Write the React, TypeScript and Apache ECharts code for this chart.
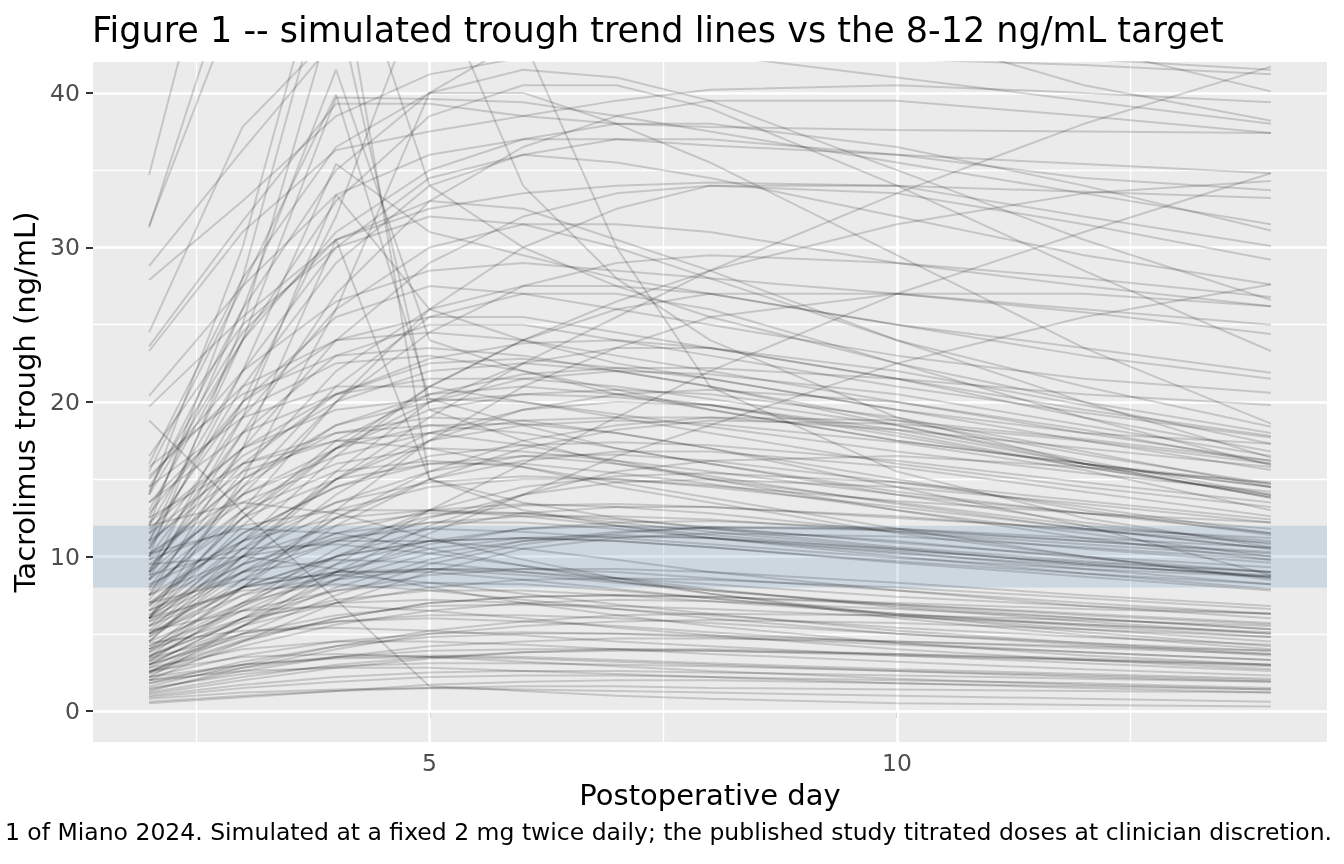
import { useEffect, useRef } from 'react';
import * as echarts from 'echarts';

// observation days (postoperative)
const days = [2, 3, 4, 5, 6, 7, 8, 10, 12, 14];

// troughs (ng/mL), one row per simulated patient
const highStart = [
  [34.7, 58.0, 66.0, 64.0, 61.0, 58.0, 55.0, 48.0, 43.0, 40.1],
  [31.3, 50.0, 57.0, 55.0, 53.0, 50.0, 48.0, 44.0, 40.5, 38.2],
  [31.4, 47.0, 55.0, 56.0, 54.0, 52.0, 50.0, 47.5, 45.0, 43.5],
  [28.8, 36.3, 43.5, 46.0, 45.5, 44.5, 43.5, 42.8, 42.2, 41.5],
  [27.9, 33.0, 38.5, 41.2, 42.3, 42.6, 42.6, 42.2, 41.8, 41.2],
  [24.5, 37.8, 44.0, 45.0, 44.0, 43.0, 42.5, 41.0, 39.5, 38.0],
  [23.6, 31.7, 39.3, 39.3, 38.5, 38.0, 37.8, 37.6, 37.5, 37.4],
  [23.3, 31.0, 36.3, 37.5, 38.5, 39.5, 40.2, 40.5, 40.0, 39.4],
  [20.4, 27.5, 33.4, 36.0, 37.0, 37.0, 36.6, 36.0, 35.4, 34.8],
  [19.7, 25.5, 30.5, 32.5, 33.5, 34.0, 34.2, 34.0, 33.6, 33.2],
];

const earlySpikes = [
  [10.0, 25.0, 46.0, 19.5, 17.5, 16.0, 15.0, 13.5, 12.0, 11.0],
  [12.0, 28.0, 50.0, 15.0, 13.5, 12.5, 11.8, 10.6, 9.7, 9.0],
  [14.0, 30.0, 52.0, 34.0, 30.0, 27.5, 25.5, 22.5, 20.0, 18.0],
  [15.5, 27.5, 39.9, 20.2, 18.5, 17.0, 16.0, 14.2, 12.8, 11.5],
  [12.5, 26.0, 41.5, 24.0, 22.0, 20.5, 19.5, 17.5, 16.0, 14.5],
  [10.5, 22.0, 35.4, 31.0, 29.5, 28.0, 27.0, 25.0, 23.0, 21.5],
  [8.5, 19.0, 33.4, 26.0, 24.0, 22.5, 21.5, 19.5, 18.0, 17.3],
  [7.5, 17.0, 30.5, 15.0, 13.0, 12.0, 11.2, 10.2, 9.4, 8.8],
  [18.8, 12.9, 7.2, 1.6, 1.3, 1.0, 0.8, 0.5, 0.4, 0.3],
  [6.0, 15.0, 26.0, 40.0, 43.5, 30.0, 21.0, 15.5, 12.5, 10.6],
  [11.0, 24.0, 39.7, 39.6, 39.4, 38.5, 37.5, 35.5, 33.5, 31.5],
  [9.0, 20.0, 32.0, 48.0, 34.0, 28.0, 24.0, 19.0, 16.0, 13.8],
];

const lateRisers = [
  [5.0, 10.0, 15.0, 19.0, 22.5, 25.5, 28.5, 33.5, 38.0, 41.7],
  [3.0, 6.0, 9.5, 13.0, 16.0, 19.0, 22.0, 27.0, 31.0, 34.8],
  [6.0, 12.0, 17.0, 21.0, 24.0, 26.5, 28.5, 31.5, 33.5, 34.3],
  [2.5, 5.5, 8.5, 11.5, 14.0, 16.5, 18.5, 22.5, 25.5, 27.6],
];

const upperRange = [
  [14.0, 24.0, 31.0, 35.0, 37.0, 38.0, 38.0, 36.5, 34.0, 31.1],
  [9.0, 17.0, 24.0, 29.0, 32.0, 33.5, 34.0, 33.5, 31.5, 29.2],
  [12.0, 22.0, 30.0, 34.5, 36.0, 35.5, 34.5, 32.0, 29.5, 27.6],
  [7.5, 14.0, 20.0, 24.5, 27.5, 29.0, 29.5, 29.0, 28.0, 26.8],
  [10.5, 19.0, 26.0, 30.0, 31.5, 31.5, 31.0, 29.0, 27.5, 26.2],
  [15.0, 22.0, 26.5, 28.5, 29.0, 28.5, 28.0, 27.0, 26.0, 25.0],
  [5.5, 11.0, 16.5, 21.0, 24.0, 26.0, 27.0, 27.0, 25.8, 24.4],
  [13.0, 24.0, 33.0, 38.5, 40.5, 40.5, 39.0, 34.0, 28.5, 23.3],
  [8.0, 15.5, 22.0, 26.0, 27.5, 27.5, 27.0, 25.0, 23.5, 21.9],
  [11.5, 20.0, 25.5, 27.5, 27.0, 26.0, 25.0, 23.0, 21.5, 20.6],
  [6.5, 12.5, 17.5, 20.5, 21.8, 22.2, 22.2, 21.5, 20.5, 19.8],
  [16.0, 28.0, 36.5, 40.0, 40.0, 38.0, 35.5, 29.5, 23.5, 18.6],
  [10.0, 18.0, 23.0, 25.0, 25.0, 24.0, 23.0, 21.0, 19.3, 17.7],
  [4.5, 10.0, 15.5, 20.0, 22.5, 23.5, 23.5, 22.0, 19.8, 17.3],
  [14.5, 24.5, 30.5, 33.0, 32.5, 30.5, 28.5, 24.0, 20.0, 16.4],
  [9.2, 16.0, 20.5, 22.5, 22.8, 22.2, 21.5, 19.5, 17.5, 15.6],
  [13.5, 19.5, 22.5, 23.0, 22.0, 20.8, 19.5, 17.5, 16.0, 14.7],
  [11.0, 21.0, 29.0, 34.0, 36.0, 37.0, 37.0, 36.0, 34.5, 33.7],
  [16.5, 25.0, 30.0, 32.0, 31.5, 30.0, 28.0, 24.0, 21.0, 18.4],
  [3.5, 8.0, 13.0, 17.5, 21.0, 23.5, 25.5, 27.0, 27.0, 26.2],
  [12.8, 20.0, 24.0, 25.5, 25.5, 24.5, 23.5, 21.5, 19.5, 17.8],
  [6.0, 13.0, 20.0, 26.0, 30.0, 32.5, 34.0, 34.0, 32.0, 30.1],
  [14.2, 26.0, 35.0, 40.0, 41.5, 41.0, 39.5, 35.0, 30.5, 26.6],
  [8.8, 18.0, 27.0, 33.0, 36.5, 38.5, 39.5, 39.5, 38.5, 37.4],
  [15.2, 21.0, 24.0, 24.5, 24.0, 23.0, 22.0, 20.0, 18.0, 16.2],
  [10.2, 14.0, 16.5, 18.0, 18.8, 19.0, 19.0, 18.2, 17.0, 15.8],
  [12.2, 17.0, 19.5, 20.2, 20.0, 19.2, 18.4, 16.8, 15.4, 14.2],
  [7.2, 14.5, 21.0, 25.5, 27.0, 27.0, 26.0, 22.5, 19.0, 15.9],
];

const midRange = [
  [7.5, 11.0, 13.5, 14.8, 15.2, 15.0, 14.6, 13.6, 12.8, 12.2],
  [5.0, 8.5, 11.0, 12.6, 13.3, 13.4, 13.2, 12.5, 11.8, 11.2],
  [9.5, 13.5, 16.0, 17.0, 16.8, 16.2, 15.5, 14.0, 12.8, 11.8],
  [4.2, 7.5, 10.0, 11.8, 12.8, 13.2, 13.2, 12.6, 11.7, 10.9],
  [6.0, 10.5, 13.5, 15.5, 16.5, 16.6, 16.2, 14.8, 13.2, 11.5],
  [3.5, 6.5, 9.0, 10.8, 11.8, 12.2, 12.3, 11.8, 11.0, 10.3],
  [8.0, 12.5, 15.0, 16.0, 16.0, 15.4, 14.7, 13.0, 11.5, 10.0],
  [2.8, 5.5, 8.0, 9.8, 11.0, 11.6, 11.9, 11.7, 11.0, 10.2],
  [11.0, 15.5, 17.5, 18.0, 17.2, 16.2, 15.0, 13.0, 11.2, 9.8],
  [5.5, 9.0, 11.5, 13.0, 13.4, 13.2, 12.8, 11.6, 10.5, 9.6],
  [7.0, 10.0, 12.0, 12.8, 12.8, 12.4, 11.9, 10.9, 10.0, 9.3],
  [4.0, 7.0, 9.5, 11.0, 11.8, 12.0, 11.8, 11.0, 9.9, 9.0],
  [9.0, 14.0, 17.0, 18.5, 18.6, 18.0, 17.0, 14.5, 12.0, 8.8],
  [6.5, 9.5, 11.2, 11.8, 11.6, 11.2, 10.8, 9.9, 9.2, 8.7],
  [3.0, 6.0, 8.5, 10.2, 11.0, 11.3, 11.2, 10.5, 9.5, 8.7],
  [12.5, 16.0, 17.5, 17.0, 15.8, 14.5, 13.5, 11.5, 10.0, 8.5],
  [5.0, 8.0, 10.0, 11.0, 11.2, 11.0, 10.6, 9.7, 8.9, 8.2],
  [8.5, 13.0, 15.5, 16.2, 15.8, 14.8, 13.8, 11.8, 10.0, 8.6],
  [14.5, 19.0, 21.0, 21.0, 20.0, 19.0, 18.0, 16.0, 14.5, 13.2],
  [15.8, 20.5, 23.0, 23.5, 23.0, 22.0, 21.0, 18.8, 16.6, 14.7],
  [13.5, 18.0, 20.5, 21.5, 21.5, 21.0, 20.2, 18.5, 16.2, 14.0],
  [10.0, 15.0, 18.5, 20.0, 20.5, 20.3, 19.8, 18.0, 15.8, 13.9],
  [7.8, 13.0, 17.0, 19.5, 20.5, 20.8, 20.5, 19.0, 16.8, 14.5],
  [6.2, 11.0, 15.0, 17.5, 18.5, 18.8, 18.6, 17.4, 15.6, 13.0],
  [4.8, 9.0, 12.5, 15.0, 16.2, 16.8, 16.8, 15.8, 14.2, 12.6],
  [3.2, 7.0, 10.5, 13.0, 14.5, 15.2, 15.4, 14.8, 13.6, 12.4],
  [10.8, 16.5, 20.0, 22.0, 22.5, 22.0, 21.0, 18.5, 16.0, 14.5],
  [2.5, 5.0, 7.5, 9.5, 10.8, 11.5, 11.9, 11.8, 11.2, 10.6],
  [6.8, 11.5, 14.5, 16.0, 16.5, 16.0, 15.2, 13.4, 11.8, 10.5],
  [9.8, 12.0, 13.0, 13.0, 12.6, 12.0, 11.4, 10.4, 9.6, 9.0],
  [5.8, 10.0, 13.0, 14.5, 15.0, 15.0, 14.5, 13.2, 11.8, 10.5],
  [11.8, 17.0, 20.5, 22.8, 23.8, 24.0, 23.5, 21.5, 19.0, 16.8],
  [2.0, 4.5, 7.0, 9.0, 10.5, 11.2, 11.5, 11.3, 10.6, 9.8],
  [8.2, 11.0, 12.5, 13.0, 12.8, 12.2, 11.6, 10.5, 9.5, 8.7],
  [4.5, 9.5, 14.0, 17.5, 19.5, 20.5, 20.8, 20.0, 18.2, 16.0],
  [6.8, 12.5, 17.0, 20.0, 21.5, 22.0, 21.8, 20.5, 18.5, 16.5],
  [3.8, 8.0, 12.0, 15.0, 17.0, 18.2, 18.8, 18.6, 17.5, 16.0],
  [8.5, 14.5, 18.5, 20.5, 21.0, 20.5, 19.8, 17.8, 15.8, 14.0],
  [5.2, 10.5, 15.0, 18.0, 19.5, 20.0, 19.8, 18.2, 16.0, 13.8],
  [9.8, 15.0, 18.0, 19.0, 18.8, 18.0, 17.0, 15.0, 13.0, 11.4],
  [2.2, 5.5, 9.0, 12.0, 14.0, 15.5, 16.2, 16.5, 15.8, 14.8],
  [7.0, 11.5, 14.5, 16.5, 17.2, 17.4, 17.2, 16.2, 14.8, 13.5],
  [4.0, 8.5, 12.5, 15.5, 17.5, 18.5, 19.0, 18.8, 17.6, 16.2],
  [11.5, 16.0, 18.0, 18.5, 18.0, 17.0, 16.0, 14.0, 12.2, 10.8],
  [3.3, 6.8, 10.0, 12.5, 14.0, 14.8, 15.0, 14.5, 13.4, 12.2],
  [6.0, 9.0, 11.0, 12.2, 12.6, 12.6, 12.4, 11.6, 10.8, 10.0],
];

const lowRange = [
  [3.0, 5.0, 6.2, 6.8, 6.9, 6.8, 6.6, 6.1, 5.6, 5.1],
  [1.8, 3.2, 4.2, 4.8, 5.0, 5.0, 4.9, 4.5, 4.1, 3.7],
  [5.0, 7.5, 8.8, 9.2, 9.0, 8.6, 8.2, 7.4, 6.8, 6.3],
  [1.0, 1.7, 2.2, 2.5, 2.6, 2.6, 2.5, 2.3, 2.1, 1.9],
  [2.5, 4.5, 6.0, 7.0, 7.4, 7.5, 7.4, 7.0, 6.6, 6.3],
  [4.0, 6.0, 7.0, 7.2, 7.0, 6.6, 6.2, 5.4, 4.8, 4.3],
  [0.6, 1.0, 1.3, 1.5, 1.6, 1.6, 1.5, 1.4, 1.3, 1.2],
  [6.5, 9.0, 9.8, 9.6, 9.0, 8.4, 7.8, 6.9, 6.2, 5.6],
  [2.2, 3.6, 4.5, 5.0, 5.1, 5.0, 4.8, 4.3, 3.8, 3.3],
  [7.5, 10.0, 11.0, 11.0, 10.5, 9.8, 9.0, 7.8, 6.8, 6.0],
  [1.4, 2.6, 3.5, 4.2, 4.5, 4.7, 4.7, 4.5, 4.2, 3.9],
  [3.6, 5.8, 7.2, 7.8, 7.8, 7.5, 7.1, 6.3, 5.6, 5.0],
  [0.8, 1.2, 1.4, 1.5, 1.4, 1.3, 1.2, 1.0, 0.8, 0.6],
  [4.5, 7.0, 8.5, 9.2, 9.2, 9.0, 8.6, 7.8, 7.0, 6.3],
  [2.0, 3.0, 3.5, 3.6, 3.5, 3.3, 3.1, 2.7, 2.4, 2.1],
  [8.8, 10.5, 10.8, 10.2, 9.4, 8.6, 7.9, 6.7, 5.8, 5.0],
  [1.2, 2.2, 3.0, 3.5, 3.8, 3.9, 3.9, 3.7, 3.4, 3.0],
  [5.5, 8.0, 9.0, 9.0, 8.5, 7.9, 7.3, 6.2, 5.3, 4.5],
  [3.2, 5.5, 7.0, 8.0, 8.5, 8.6, 8.5, 8.0, 7.3, 6.6],
  [2.8, 4.0, 4.5, 4.5, 4.3, 4.0, 3.7, 3.2, 2.7, 2.3],
  [0.5, 0.9, 1.3, 1.7, 1.9, 2.0, 2.0, 1.8, 1.6, 1.4],
  [6.0, 7.8, 8.2, 7.8, 7.2, 6.6, 6.0, 5.0, 4.3, 3.6],
  [1.6, 3.0, 4.2, 5.2, 5.8, 6.2, 6.3, 6.2, 5.9, 5.5],
  [4.2, 6.5, 7.8, 8.3, 8.2, 7.8, 7.3, 6.3, 5.5, 4.8],
  [2.6, 3.5, 3.7, 3.5, 3.2, 2.9, 2.6, 2.1, 1.7, 1.4],
  [10.2, 11.8, 11.5, 10.5, 9.4, 8.4, 7.6, 6.2, 5.1, 4.2],
  [3.8, 6.8, 9.0, 10.5, 11.2, 11.4, 11.2, 10.3, 9.2, 8.2],
  [1.1, 2.0, 2.8, 3.4, 3.8, 4.0, 4.0, 3.7, 3.3, 2.9],
  [5.2, 6.5, 6.8, 6.5, 6.0, 5.4, 4.9, 4.0, 3.3, 2.7],
  [2.4, 4.2, 5.6, 6.5, 7.0, 7.2, 7.1, 6.6, 6.0, 5.3],
  [7.0, 8.5, 8.8, 8.3, 7.6, 6.9, 6.3, 5.2, 4.4, 3.7],
  [1.5, 2.4, 2.9, 3.1, 3.1, 3.0, 2.9, 2.6, 2.3, 2.0],
  [3.4, 5.0, 5.8, 6.0, 5.8, 5.5, 5.1, 4.4, 3.8, 3.3],
  [4.8, 8.0, 10.0, 11.0, 11.2, 11.0, 10.6, 9.6, 8.7, 7.8],
  [0.9, 1.5, 1.9, 2.2, 2.3, 2.3, 2.2, 2.0, 1.8, 1.5],
  [6.2, 9.5, 11.5, 12.2, 12.2, 11.8, 11.2, 10.0, 8.9, 7.9],
  [2.0, 2.6, 2.8, 2.8, 2.6, 2.4, 2.2, 1.8, 1.5, 1.2],
  [3.0, 4.8, 5.8, 6.2, 6.2, 6.0, 5.7, 5.0, 4.4, 3.9],
  [12.0, 13.5, 12.8, 11.2, 9.8, 8.6, 7.6, 6.0, 4.9, 4.0],
  [1.8, 2.8, 3.5, 3.9, 4.0, 4.0, 3.9, 3.6, 3.3, 3.0],
  [9.5, 10.0, 9.2, 8.0, 7.0, 6.2, 5.5, 4.4, 3.6, 3.0],
  [4.4, 5.2, 5.4, 5.2, 4.9, 4.5, 4.2, 3.6, 3.1, 2.6],
  [2.2, 3.0, 3.4, 3.5, 3.4, 3.2, 3.0, 2.6, 2.2, 1.9],
  [3.5, 6.0, 7.8, 8.8, 9.2, 9.2, 9.0, 8.3, 7.5, 6.8],
  [1.3, 2.8, 4.0, 5.0, 5.5, 5.8, 5.9, 5.7, 5.3, 4.8],
  [5.8, 8.0, 9.0, 9.2, 8.8, 8.3, 7.8, 6.8, 6.0, 5.3],
  [2.6, 4.6, 6.0, 7.0, 7.4, 7.5, 7.4, 6.9, 6.3, 5.7],
];

// therapeutic target band
const targetLow = 8;
const targetHigh = 12;

const xMajor = [5, 10];
const xMinor = [2.5, 7.5, 12.5];
const yMajor = [0, 10, 20, 30, 40];
const yMinor = [5, 15, 25, 35];

const FONT = 'DejaVu Sans';

const TroughChart = () => {
  const chartRef = useRef<HTMLDivElement>(null);

  useEffect(() => {
    if (!chartRef.current) return;
    const chart = echarts.init(chartRef.current, null, { renderer: 'svg' });

    const patients = [...highStart, ...earlySpikes, ...lateRisers, ...upperRange, ...midRange, ...lowRange];

    const lineSeries = patients.map((row) => ({
      type: 'line',
      data: days.map((d, i) => [d, row[i]]),
      showSymbol: false,
      symbol: 'none',
      silent: true,
      z: 2,
      lineStyle: { color: 'rgba(0,0,0,0.16)', width: 2 },
    }));

    const gridLines = [
      ...xMinor.map((v) => ({ xAxis: v, lineStyle: { width: 1.3 } })),
      ...xMajor.map((v) => ({ xAxis: v, lineStyle: { width: 2.6 } })),
      ...yMinor.map((v) => ({ yAxis: v, lineStyle: { width: 1.3 } })),
      ...yMajor.map((v) => ({ yAxis: v, lineStyle: { width: 2.6 } })),
    ];

    const option = {
      animation: false,
      textStyle: { fontFamily: FONT },
      title: {
        text: 'Figure 1 -- simulated trough trend lines vs the 8-12 ng/mL target',
        left: 92,
        top: 12,
        padding: 0,
        textStyle: { fontSize: 35, fontWeight: 'normal', color: '#000', fontFamily: FONT },
      },
      grid: {
        left: 93,
        right: 17,
        top: 62,
        bottom: 122,
        show: true,
        backgroundColor: '#EBEBEB',
        borderWidth: 0,
      },
      xAxis: {
        type: 'value',
        min: 1.4,
        max: 14.6,
        name: 'Postoperative day',
        nameLocation: 'middle',
        nameGap: 38,
        nameTextStyle: { fontSize: 29, color: '#000', fontFamily: FONT },
        axisLine: { show: false },
        splitLine: { show: false },
        axisTick: { show: true, customValues: xMajor, length: 7, lineStyle: { color: '#333', width: 2 } },
        axisLabel: { customValues: xMajor, fontSize: 23.5, color: '#4D4D4D', margin: 9, fontFamily: FONT },
      },
      yAxis: {
        type: 'value',
        min: -2,
        max: 42,
        name: 'Tacrolimus trough (ng/mL)',
        nameLocation: 'middle',
        nameGap: 46,
        nameTextStyle: { fontSize: 29, color: '#000', fontFamily: FONT },
        axisLine: { show: false },
        splitLine: { show: false },
        axisTick: { show: true, customValues: yMajor, length: 7, lineStyle: { color: '#333', width: 2 } },
        axisLabel: { customValues: yMajor, fontSize: 23.5, color: '#4D4D4D', margin: 13, fontFamily: FONT },
      },
      graphic: [
        {
          type: 'text',
          right: 12,
          top: 820,
          style: {
            text: '1 of Miano 2024. Simulated at a fixed 2 mg twice daily; the published study titrated doses at clinician discretion.',
            fontSize: 23.5,
            fill: '#000',
            fontFamily: FONT,
          },
        },
      ],
      series: [
        {
          type: 'line',
          data: [],
          silent: true,
          z: 1,
          markLine: {
            silent: true,
            z: 1,
            symbol: ['none', 'none'],
            label: { show: false },
            lineStyle: { color: '#FFFFFF', type: 'solid' },
            data: gridLines,
          },
        },
        ...lineSeries,
        {
          type: 'line',
          data: [],
          silent: true,
          z: 1.5,
          markArea: {
            silent: true,
            z: 1.5,
            itemStyle: { color: 'rgba(70,130,180,0.18)' },
            data: [[{ yAxis: targetLow }, { yAxis: targetHigh }]],
          },
        },
      ],
    };

    chart.setOption(option);
    return () => chart.dispose();
  }, []);

  return <div ref={chartRef} style={{ position: 'fixed', left: 0, top: 0, width: 1344, height: 864 }} />;
};

export default function App() {
  return <TroughChart />;
}
